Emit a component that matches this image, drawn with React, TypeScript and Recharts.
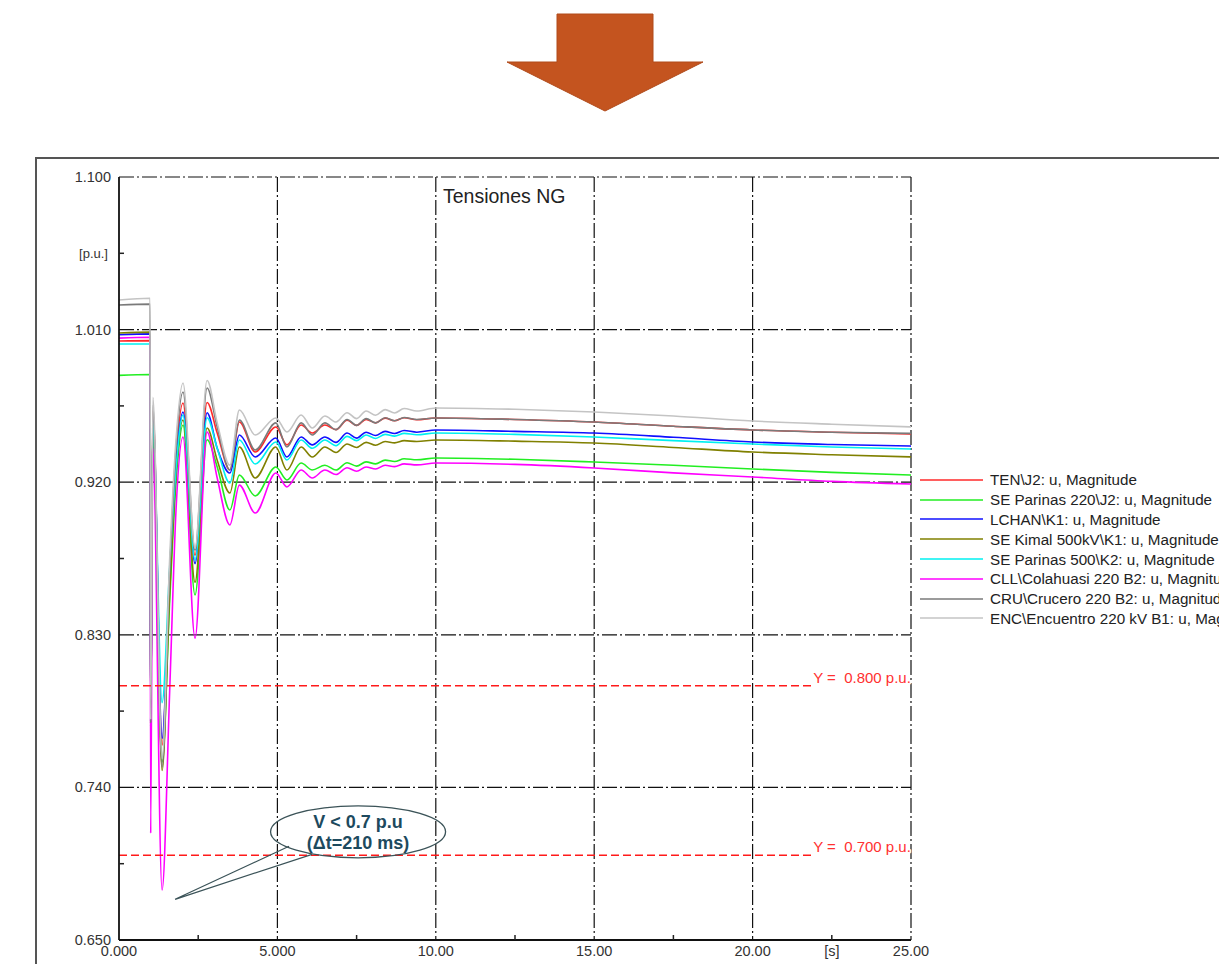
import React from 'react';
import { LineChart, Line, XAxis, YAxis, CartesianGrid, ReferenceLine, ReferenceDot } from 'recharts';

// ---- data ----
const time = [0, 0.98, 1.0, 1.07, 1.36, 1.6, 1.8, 2.02, 2.4, 2.78, 3.1, 3.5, 3.8, 4.3, 4.95, 5.3, 5.75, 6.1, 6.5, 6.85, 7.2, 7.5, 7.8, 8.1, 8.4, 8.7, 9.0, 9.4, 10, 12.5, 15, 17.5, 20, 22.5, 25];

const tenJ2 = [1.0033, 1.0035, 0.779, 0.962, 0.765, 0.866, 0.935, 0.9667, 0.877, 0.967, 0.949, 0.9272, 0.9555, 0.9378, 0.9526, 0.942, 0.9537, 0.949, 0.9537, 0.951, 0.9565, 0.9535, 0.957, 0.955, 0.9578, 0.9562, 0.958, 0.9568, 0.9579, 0.957, 0.9555, 0.953, 0.9508, 0.9495, 0.9484];
const parinas220 = [0.983, 0.9835, 0.776, 0.945, 0.755, 0.85, 0.92, 0.9537, 0.8535, 0.945, 0.929, 0.9036, 0.9242, 0.9119, 0.929, 0.9213, 0.9313, 0.9272, 0.93, 0.9272, 0.9315, 0.9295, 0.932, 0.9308, 0.933, 0.9322, 0.9338, 0.9332, 0.9343, 0.9335, 0.9319, 0.93, 0.9278, 0.9258, 0.9242];
const lchanK1 = [1.007, 1.0075, 0.779, 0.958, 0.769, 0.862, 0.93, 0.9614, 0.872, 0.961, 0.94, 0.9254, 0.9478, 0.9349, 0.9461, 0.9349, 0.9467, 0.942, 0.9467, 0.9435, 0.949, 0.946, 0.9495, 0.9475, 0.95, 0.9487, 0.9505, 0.9495, 0.9508, 0.95, 0.949, 0.9465, 0.9437, 0.9422, 0.9413];
const kimal500 = [1.008, 1.0085, 0.778, 0.955, 0.75, 0.855, 0.925, 0.9567, 0.861, 0.952, 0.933, 0.9136, 0.9408, 0.9225, 0.9408, 0.9272, 0.9408, 0.9349, 0.9408, 0.9375, 0.9425, 0.9405, 0.9435, 0.9418, 0.944, 0.9432, 0.9445, 0.944, 0.9449, 0.9442, 0.9431, 0.9405, 0.9378, 0.9362, 0.9349];
const parinas500 = [1.0015, 1.0015, 0.78, 0.955, 0.79, 0.87, 0.928, 0.9596, 0.874, 0.958, 0.94, 0.9195, 0.9449, 0.9307, 0.9437, 0.9331, 0.9449, 0.94, 0.9449, 0.9415, 0.947, 0.9445, 0.9478, 0.9458, 0.9482, 0.9472, 0.9488, 0.948, 0.949, 0.9482, 0.9467, 0.9445, 0.9425, 0.9408, 0.9396];
const colahuasi = [1.005, 1.0055, 0.713, 0.94, 0.6795, 0.797, 0.9036, 0.9467, 0.828, 0.9496, 0.9225, 0.8948, 0.9183, 0.9018, 0.9254, 0.9172, 0.9272, 0.9225, 0.9272, 0.9245, 0.9285, 0.9265, 0.929, 0.9278, 0.93, 0.9292, 0.9308, 0.9302, 0.9313, 0.9305, 0.9284, 0.9255, 0.9231, 0.9205, 0.9189];
const crucero = [1.0245, 1.025, 0.778, 0.965, 0.752, 0.868, 0.94, 0.9732, 0.88, 0.9756, 0.9526, 0.9272, 0.9567, 0.939, 0.955, 0.9408, 0.955, 0.9478, 0.955, 0.951, 0.957, 0.9535, 0.9575, 0.955, 0.958, 0.9562, 0.9582, 0.957, 0.9579, 0.957, 0.9555, 0.953, 0.9508, 0.9495, 0.9488];
const encuentro = [1.0275, 1.0285, 0.78, 0.97, 0.757, 0.875, 0.945, 0.9785, 0.881, 0.98, 0.955, 0.93, 0.9626, 0.9478, 0.9579, 0.9496, 0.9596, 0.952, 0.959, 0.9555, 0.961, 0.9575, 0.962, 0.9595, 0.9628, 0.9608, 0.9635, 0.962, 0.9638, 0.963, 0.9614, 0.959, 0.9561, 0.9542, 0.9526];

const seriesNames = [
  'TEN\\J2: u, Magnitude',
  'SE Parinas 220\\J2: u, Magnitude',
  'LCHAN\\K1: u, Magnitude',
  'SE Kimal 500kV\\K1: u, Magnitude',
  'SE Parinas 500\\K2: u, Magnitude',
  'CLL\\Colahuasi 220 B2: u, Magnitude',
  'CRU\\Crucero 220 B2: u, Magnitude',
  'ENC\\Encuentro 220 kV B1: u, Magnitude',
];
const seriesColors = ['#ff2a2a', '#22ee22', '#1010ff', '#808000', '#00f0f0', '#ff00ff', '#7a7a7a', '#c4c4c4'];
const seriesValues = [tenJ2, parinas220, lchanK1, kimal500, parinas500, colahuasi, crucero, encuentro];

const yTicks = [0.65, 0.695, 0.74, 0.785, 0.83, 0.875, 0.92, 0.965, 1.01, 1.055, 1.1];
const yTickLabels = ['0.650', '', '0.740', '', '0.830', '', '0.920', '', '1.010', '[p.u.]', '1.100'];
const yGrid = [0.74, 0.83, 0.92, 1.01, 1.1];
const xTicks = [0, 2.5, 5, 7.5, 10, 12.5, 15, 17.5, 20, 22.5, 25];
const xTickLabels = ['0.000', '', '5.000', '', '10.00', '', '15.00', '', '20.00', '[s]', '25.00'];
const xGrid = [5, 10, 15, 20, 25];

const thresholds = [0.8, 0.7];
const thresholdLabels = ['Y =\u00a0\u00a00.800 p.u.', 'Y =\u00a0\u00a00.700 p.u.'];
const thresholdEnd = 21.88;

const chartTitle = 'Tensiones NG';
const calloutLines = ['V < 0.7 p.u', '(\u0394t=210 ms)'];
const calloutTip = { t: 1.77, v: 0.674 };

const data = time.map((t, i) => {
  const row: any = { t };
  seriesValues.forEach((s, k) => { row['s' + k] = s[i]; });
  return row;
});

const FONT = '"Liberation Sans", Arial, sans-serif';

const YTick = (props: any) => {
  const { x, y, payload } = props;
  const i = yTicks.findIndex((v) => Math.abs(v - payload.value) < 1e-6);
  const label = i >= 0 ? yTickLabels[i] : '';
  const major = label !== '' && label !== '[p.u.]';
  return (
    <g>
      {!major && <line x1={x + 8} x2={x + 13} y1={y} y2={y} stroke="#222" strokeWidth={1.5} />}
      <text x={label === '[p.u.]' ? x - 3 : x} y={y} dy="0.35em" textAnchor="end" fontSize={label === '[p.u.]' ? 13 : 14.5} fill="#333" fontFamily={FONT}>{label}</text>
    </g>
  );
};

const XTick = (props: any) => {
  const { x, y, payload } = props;
  const i = xTicks.findIndex((v) => Math.abs(v - payload.value) < 1e-6);
  const label = i >= 0 ? xTickLabels[i] : '';
  const minor = xGrid.indexOf(payload.value) < 0 && payload.value !== 0;
  return (
    <g>
      {minor && <line x1={x} x2={x} y1={y - 6} y2={y - 11} stroke="#222" strokeWidth={1.5} />}
      <text x={x} y={y} dy="0.71em" textAnchor="middle" fontSize={14.5} fill="#333" fontFamily={FONT}>{label}</text>
    </g>
  );
};

const Callout = (props: any) => {
  const { cx, cy } = props;
  if (cx == null || cy == null) return null;
  const ex = cx + 183;
  const ey = cy - 67.5;
  return (
    <g>
      <path d={`M${cx},${cy} L${cx + 114},${cy - 53} M${cx},${cy} L${cx + 137},${cy - 45}`} stroke="#3b5358" strokeWidth={1.2} fill="none" />
      <ellipse cx={ex} cy={ey} rx={87.5} ry={26} fill="none" stroke="#3b5358" strokeWidth={1.3} />
      <text x={ex} y={ey - 10} dy="0.35em" textAnchor="middle" fontSize={18} fontWeight="bold" fill="#1d4a5e" fontFamily={FONT}>{calloutLines[0]}</text>
      <text x={ex} y={ey + 11} dy="0.35em" textAnchor="middle" fontSize={18} fontWeight="bold" fill="#1d4a5e" fontFamily={FONT}>{calloutLines[1]}</text>
    </g>
  );
};

const ThresholdLabel = (text: string) => (props: any) => {
  const { cx, cy } = props;
  if (cx == null || cy == null) return null;
  return (
    <text x={cx + 1} y={cy - 8} dy="0.35em" textAnchor="start" fontSize={15} fill="#ff3030" fontFamily={FONT} stroke="#fff" strokeWidth={3} paintOrder="stroke" strokeLinejoin="round">{text}</text>
  );
};

export default function App() {
  return (
    <div style={{ position: 'absolute', left: 0, top: 0, width: 1219, height: 964, overflow: 'hidden', background: '#fff' }}>
      <svg style={{ position: 'absolute', left: 0, top: 0 }} width={1219} height={130}>
        <polygon points="557,14 653,14 653,62 703,62 605,111 507,62 557,62" fill="#c4541f" stroke="#b04a1a" strokeWidth={1} />
      </svg>
      <div style={{ position: 'absolute', left: 35, top: 157, width: 1300, height: 900, border: '2px solid #555', boxSizing: 'border-box' }} />
      <div style={{ position: 'absolute', left: 0, top: 0 }}>
        <LineChart width={1219} height={964} data={data} margin={{ top: 177, right: 308, bottom: 0, left: 49 }}>
          <CartesianGrid horizontalValues={yGrid} verticalValues={xGrid} stroke="#111" strokeWidth={1.2} strokeDasharray="15 3 2 3" />
          <XAxis
            dataKey="t"
            type="number"
            domain={[0, 25]}
            ticks={xTicks}
            interval={0}
            height={24}
            tickSize={0}
            tickMargin={6}
            tick={<XTick />}
            axisLine={{ stroke: '#111', strokeWidth: 1.8 }}
            tickLine={false}
            allowDataOverflow
          />
          <YAxis
            type="number"
            domain={[0.65, 1.1]}
            ticks={yTicks}
            interval={0}
            width={70}
            tickSize={0}
            tickMargin={8}
            tick={<YTick />}
            axisLine={{ stroke: '#111', strokeWidth: 1.8 }}
            tickLine={false}
            allowDataOverflow
          />
          {seriesNames.map((n, k) => (
            <Line
              key={n}
              dataKey={'s' + k}
              name={n}
              type="monotone"
              stroke={seriesColors[k]}
              strokeWidth={1.6}
              dot={false}
              isAnimationActive={false}
            />
          ))}
          {thresholds.map((v, i) => (
            <ReferenceLine
              key={'th' + i}
              segment={[{ x: 0, y: v }, { x: thresholdEnd, y: v }]}
              stroke="#ff1a1a"
              strokeWidth={1.5}
              strokeDasharray="8 4"
            />
          ))}
          {thresholds.map((v, i) => (
            <ReferenceDot key={'tl' + i} x={thresholdEnd} y={v} r={0} shape={ThresholdLabel(thresholdLabels[i])} />
          ))}
          <ReferenceDot x={calloutTip.t} y={calloutTip.v} r={0} shape={Callout} />
        </LineChart>
      </div>
      <div style={{ position: 'absolute', left: 443, top: 185, fontFamily: FONT, fontSize: 19.5, color: '#222', whiteSpace: 'nowrap' }}>{chartTitle}</div>
      <div style={{ position: 'absolute', left: 920, top: 470, fontFamily: FONT, fontSize: 15.2, color: '#222' }}>
        {seriesNames.map((n, k) => (
          <div key={n} style={{ height: 19.8, display: 'flex', alignItems: 'center', whiteSpace: 'nowrap' }}>
            <svg width={63} height={4} style={{ marginRight: 7, flex: 'none' }}>
              <line x1={0} x2={63} y1={2} y2={2} stroke={seriesColors[k]} strokeWidth={1.6} />
            </svg>
            <span>{n}</span>
          </div>
        ))}
      </div>
    </div>
  );
}
